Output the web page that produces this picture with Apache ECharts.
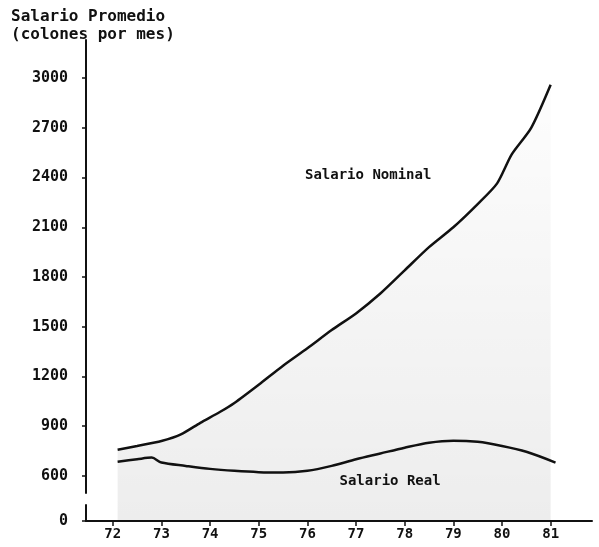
<!DOCTYPE html>
<html>
<head>
<meta charset="utf-8">
<script src="https://cdn.jsdelivr.net/npm/echarts@6/dist/echarts.min.js"></script>
<style>
html,body{margin:0;padding:0;background:#fff;}
#c{width:599px;height:547px;}
</style>
</head>
<body>
<div id="c"></div>
<script>
// Data
const nominalYears  = [72.1, 72.5, 73.0, 73.4, 73.8, 74.2, 74.5, 75.0, 75.5, 76.0, 76.5, 77.0, 77.5, 78.0, 78.5, 79.0, 79.5, 79.9, 80.2, 80.6, 81.0];
const nominalValues = [757, 780, 810, 850, 920, 985, 1040, 1150, 1265, 1370, 1480, 1580, 1700, 1840, 1980, 2100, 2240, 2365, 2540, 2700, 2960];
const realYears  = [72.1, 72.5, 72.8, 73.0, 73.5, 74.0, 74.5, 75.0, 75.5, 76.0, 76.5, 77.0, 77.5, 78.0, 78.5, 79.0, 79.5, 80.0, 80.5, 81.1];
const realValues = [685, 700, 710, 680, 660, 642, 630, 622, 620, 630, 660, 700, 735, 770, 800, 812, 805, 780, 745, 680];
const xTicks = [72, 73, 74, 75, 76, 77, 78, 79, 80, 81];
const yTicks = [0, 600, 900, 1200, 1500, 1800, 2100, 2400, 2700, 3000];
const seriesNames = ['Salario Nominal', 'Salario Real'];

const mono = "'DejaVu Sans Mono', 'Liberation Mono', monospace";
const ink = '#111';

const nominalData = nominalYears.map((x, i) => [x, nominalValues[i]]);
const realData = realYears.map((x, i) => [x, realValues[i]]);

const chart = echarts.init(document.getElementById('c'));
chart.setOption({
  animation: false,
  backgroundColor: '#fff',
  title: {
    text: 'Salario Promedio\n(colones por mes)',
    left: 6, top: 3,
    textStyle: { fontFamily: mono, fontSize: 16, fontWeight: 'bold', color: ink, lineHeight: 18 }
  },
  grid: { left: 86, top: 40, right: 7, bottom: 26 },
  xAxis: {
    type: 'value',
    min: 71.45, max: 81.85,
    axisLine: { show: true, lineStyle: { color: ink, width: 2 } },
    axisTick: { show: true, customValues: xTicks, length: 5, lineStyle: { color: ink, width: 1.5 } },
    axisLabel: { customValues: xTicks, color: ink, fontFamily: mono, fontSize: 14, fontWeight: 'bold', margin: 6,
      formatter: v => String(v) },
    splitLine: { show: false }
  },
  yAxis: {
    type: 'value',
    min: 0, max: 3230,
    breaks: [{ start: 100, end: 500, gap: '2.5%' }],
    breakArea: { show: true, zigzagAmplitude: 0, itemStyle: { color: 'rgba(0,0,0,0)', borderColor: 'rgba(0,0,0,0)', borderWidth: 0 } },
    axisLine: { show: true, lineStyle: { color: ink, width: 2 } },
    axisTick: { show: true, customValues: yTicks, length: 4, lineStyle: { color: ink, width: 1.5 } },
    axisLabel: { customValues: yTicks, color: ink, fontFamily: mono, fontSize: 15, fontWeight: 'bold', margin: 18,
      formatter: v => String(v) },
    splitLine: { show: false }
  },
  series: [
    {
      name: seriesNames[0],
      type: 'line',
      data: nominalData,
      smooth: 0.25,
      showSymbol: false,
      lineStyle: { color: ink, width: 2.5 },
      areaStyle: {
        color: new echarts.graphic.LinearGradient(0, 0, 0, 1, [
          { offset: 0, color: 'rgba(0,0,0,0.01)' },
          { offset: 1, color: 'rgba(0,0,0,0.10)' }
        ])
      },
      markPoint: {
        symbol: 'circle', symbolSize: 0,
        label: { show: true, position: 'inside', formatter: seriesNames[0], color: ink, fontFamily: mono, fontSize: 14, fontWeight: 'bold' },
        data: [{ coord: [77.25, 2414] }]
      }
    },
    {
      name: seriesNames[1],
      type: 'line',
      data: realData,
      smooth: 0.3,
      showSymbol: false,
      lineStyle: { color: ink, width: 2.5 },
      markPoint: {
        symbol: 'circle', symbolSize: 0,
        label: { show: true, position: 'inside', formatter: seriesNames[1], color: ink, fontFamily: mono, fontSize: 14, fontWeight: 'bold' },
        data: [{ coord: [77.7, 564] }]
      }
    }
  ]
});
</script>
</body>
</html>
